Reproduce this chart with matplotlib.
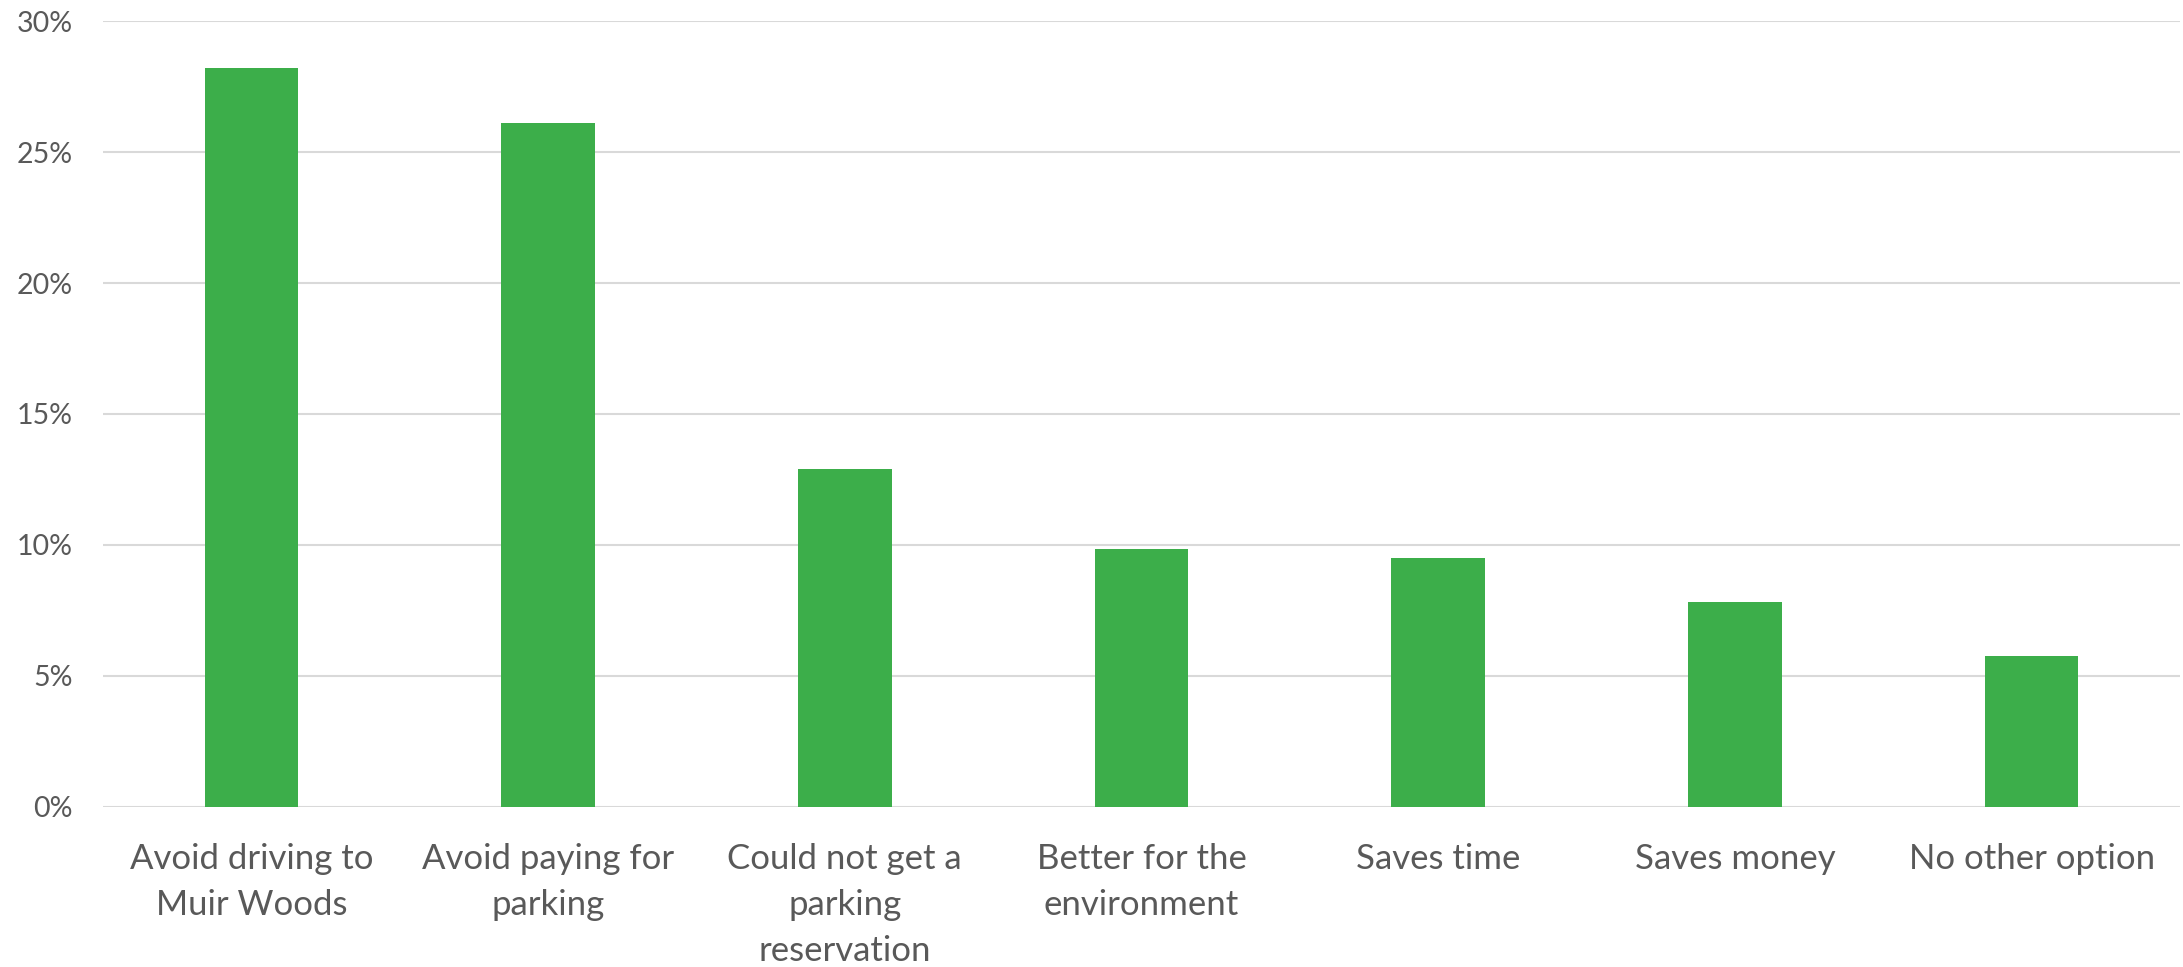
import matplotlib.pyplot as plt
from matplotlib.ticker import PercentFormatter

categories = [
    "Avoid driving to\nMuir Woods",
    "Avoid paying for\nparking",
    "Could not get a\nparking\nreservation",
    "Better for the\nenvironment",
    "Saves time",
    "Saves money",
    "No other option",
]
shares = [28.2, 26.1, 12.9, 9.85, 9.5, 7.8, 5.75]
y_ticks = [0, 5, 10, 15, 20, 25, 30]

plt.rcParams['font.family'] = ['Lato', 'DejaVu Sans']
text_color = '#595959'

fig = plt.figure(figsize=(21.83, 9.67), dpi=100)
ax = fig.add_axes([0.0472, 0.1658, 0.9514, 0.8122])

x = range(len(categories))
ax.bar(x, shares, width=0.315, color='#3CAE4A', zorder=3)

ax.set_xlim(-0.5, len(categories) - 0.5)
ax.set_ylim(0, 30)
ax.set_yticks(y_ticks)
ax.yaxis.set_major_formatter(PercentFormatter(decimals=0))
ax.set_xticks(list(x))
ax.set_xticklabels(categories, linespacing=1.55)

ax.grid(axis='y', color='#d9d9d9', linewidth=1.5, zorder=0)
for side in ['top', 'right', 'left', 'bottom']:
    ax.spines[side].set_visible(False)

ax.tick_params(axis='y', length=0, pad=22, labelsize=20.5, labelcolor=text_color)
ax.tick_params(axis='x', length=0, pad=26, labelsize=25, labelcolor=text_color)

fig.savefig('out.png', dpi=100)
